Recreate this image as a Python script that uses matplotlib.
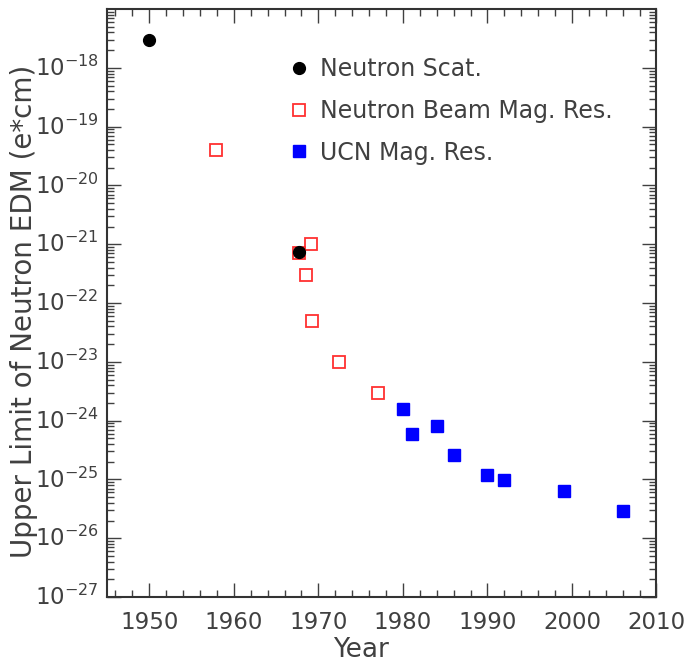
import matplotlib
matplotlib.use("Agg")
import matplotlib.pyplot as plt
import matplotlib.transforms as mtransforms
from matplotlib.ticker import LogLocator, MultipleLocator, FixedLocator, NullFormatter

# data
scat_year = [1950.0, 1967.7]
scat_edm = [3.0e-18, 7.5e-22]

beam_year = [1957.9, 1967.7, 1969.1, 1968.5, 1969.3, 1972.5, 1977.0]
beam_edm = [4.0e-20, 7.0e-22, 1.0e-21, 3.0e-22, 5.0e-23, 1.0e-23, 3.0e-24]

ucn_year = [1980.0, 1981.1, 1984.0, 1986.0, 1990.0, 1992.0, 1999.0, 2006.0]
ucn_edm = [1.6e-24, 6.0e-25, 8.0e-25, 2.6e-25, 1.2e-25, 9.7e-26, 6.3e-26, 2.9e-26]

decades = list(range(-27, -17))
xticks = [1950, 1960, 1970, 1980, 1990, 2000, 2010]

txt = "#404040"
plt.rcParams["font.family"] = "DejaVu Sans"

fig = plt.figure(figsize=(6.87, 6.64), dpi=100)
ax = fig.add_axes([0.1558, 0.1009, 0.7998, 0.8855])

ax.plot(scat_year, scat_edm, "o", color="black", markersize=8.5, label="Neutron Scat.", zorder=4)
ax.plot(beam_year, beam_edm, "s", markerfacecolor="none", markeredgecolor="#ff3030",
        markeredgewidth=1.3, markersize=8.5, label="Neutron Beam Mag. Res.", zorder=3)
ax.plot(ucn_year, ucn_edm, "s", color="#0000ff", markersize=8, label="UCN Mag. Res.", zorder=3)

ax.set_yscale("log")
ax.set_xlim(1945, 2010)
ax.set_ylim(1e-27, 1e-17)

ax.xaxis.set_major_locator(FixedLocator(xticks))
ax.xaxis.set_minor_locator(MultipleLocator(2))
ax.set_xticklabels([str(v) for v in xticks])

ax.yaxis.set_major_locator(FixedLocator([10.0 ** d for d in decades]))
ax.set_yticklabels(["$10^{%d}$" % d for d in decades])
ax.yaxis.set_minor_locator(LogLocator(base=10, subs=range(2, 10), numticks=50))
ax.yaxis.set_minor_formatter(NullFormatter())

ax.tick_params(which="both", direction="in", top=True, right=True, width=1.0, color="#404040")
ax.tick_params(which="major", length=10, labelsize=16.5, labelcolor=txt)
ax.tick_params(which="minor", length=5)
ax.tick_params(axis="x", pad=10)
ax.tick_params(axis="y", pad=6)

# "10" sits on the tick, exponent above it
shift = mtransforms.ScaledTranslation(0, -8 / 100, fig.dpi_scale_trans)
for t in ax.yaxis.get_major_ticks():
    t.label1.set_verticalalignment("baseline")
    t.label1.set_transform(t.label1.get_transform() + shift)

for s in ax.spines.values():
    s.set_linewidth(1.5)
    s.set_color("#333333")

ax.set_xlabel("Year", fontsize=19, color=txt, va="baseline")
ax.xaxis.set_label_coords(0.463, -0.102)
ax.set_ylabel("Upper Limit of Neutron EDM (e*cm)", fontsize=20, color=txt)
ax.yaxis.set_label_coords(-0.125, 0.486)

leg = ax.legend(loc="upper left", bbox_to_anchor=(0.315, 0.938), frameon=False,
                fontsize=17, handlelength=0.6, handletextpad=0.6, labelspacing=0.75,
                borderpad=0, labelcolor=txt)

fig.savefig("out.png", dpi=100)
